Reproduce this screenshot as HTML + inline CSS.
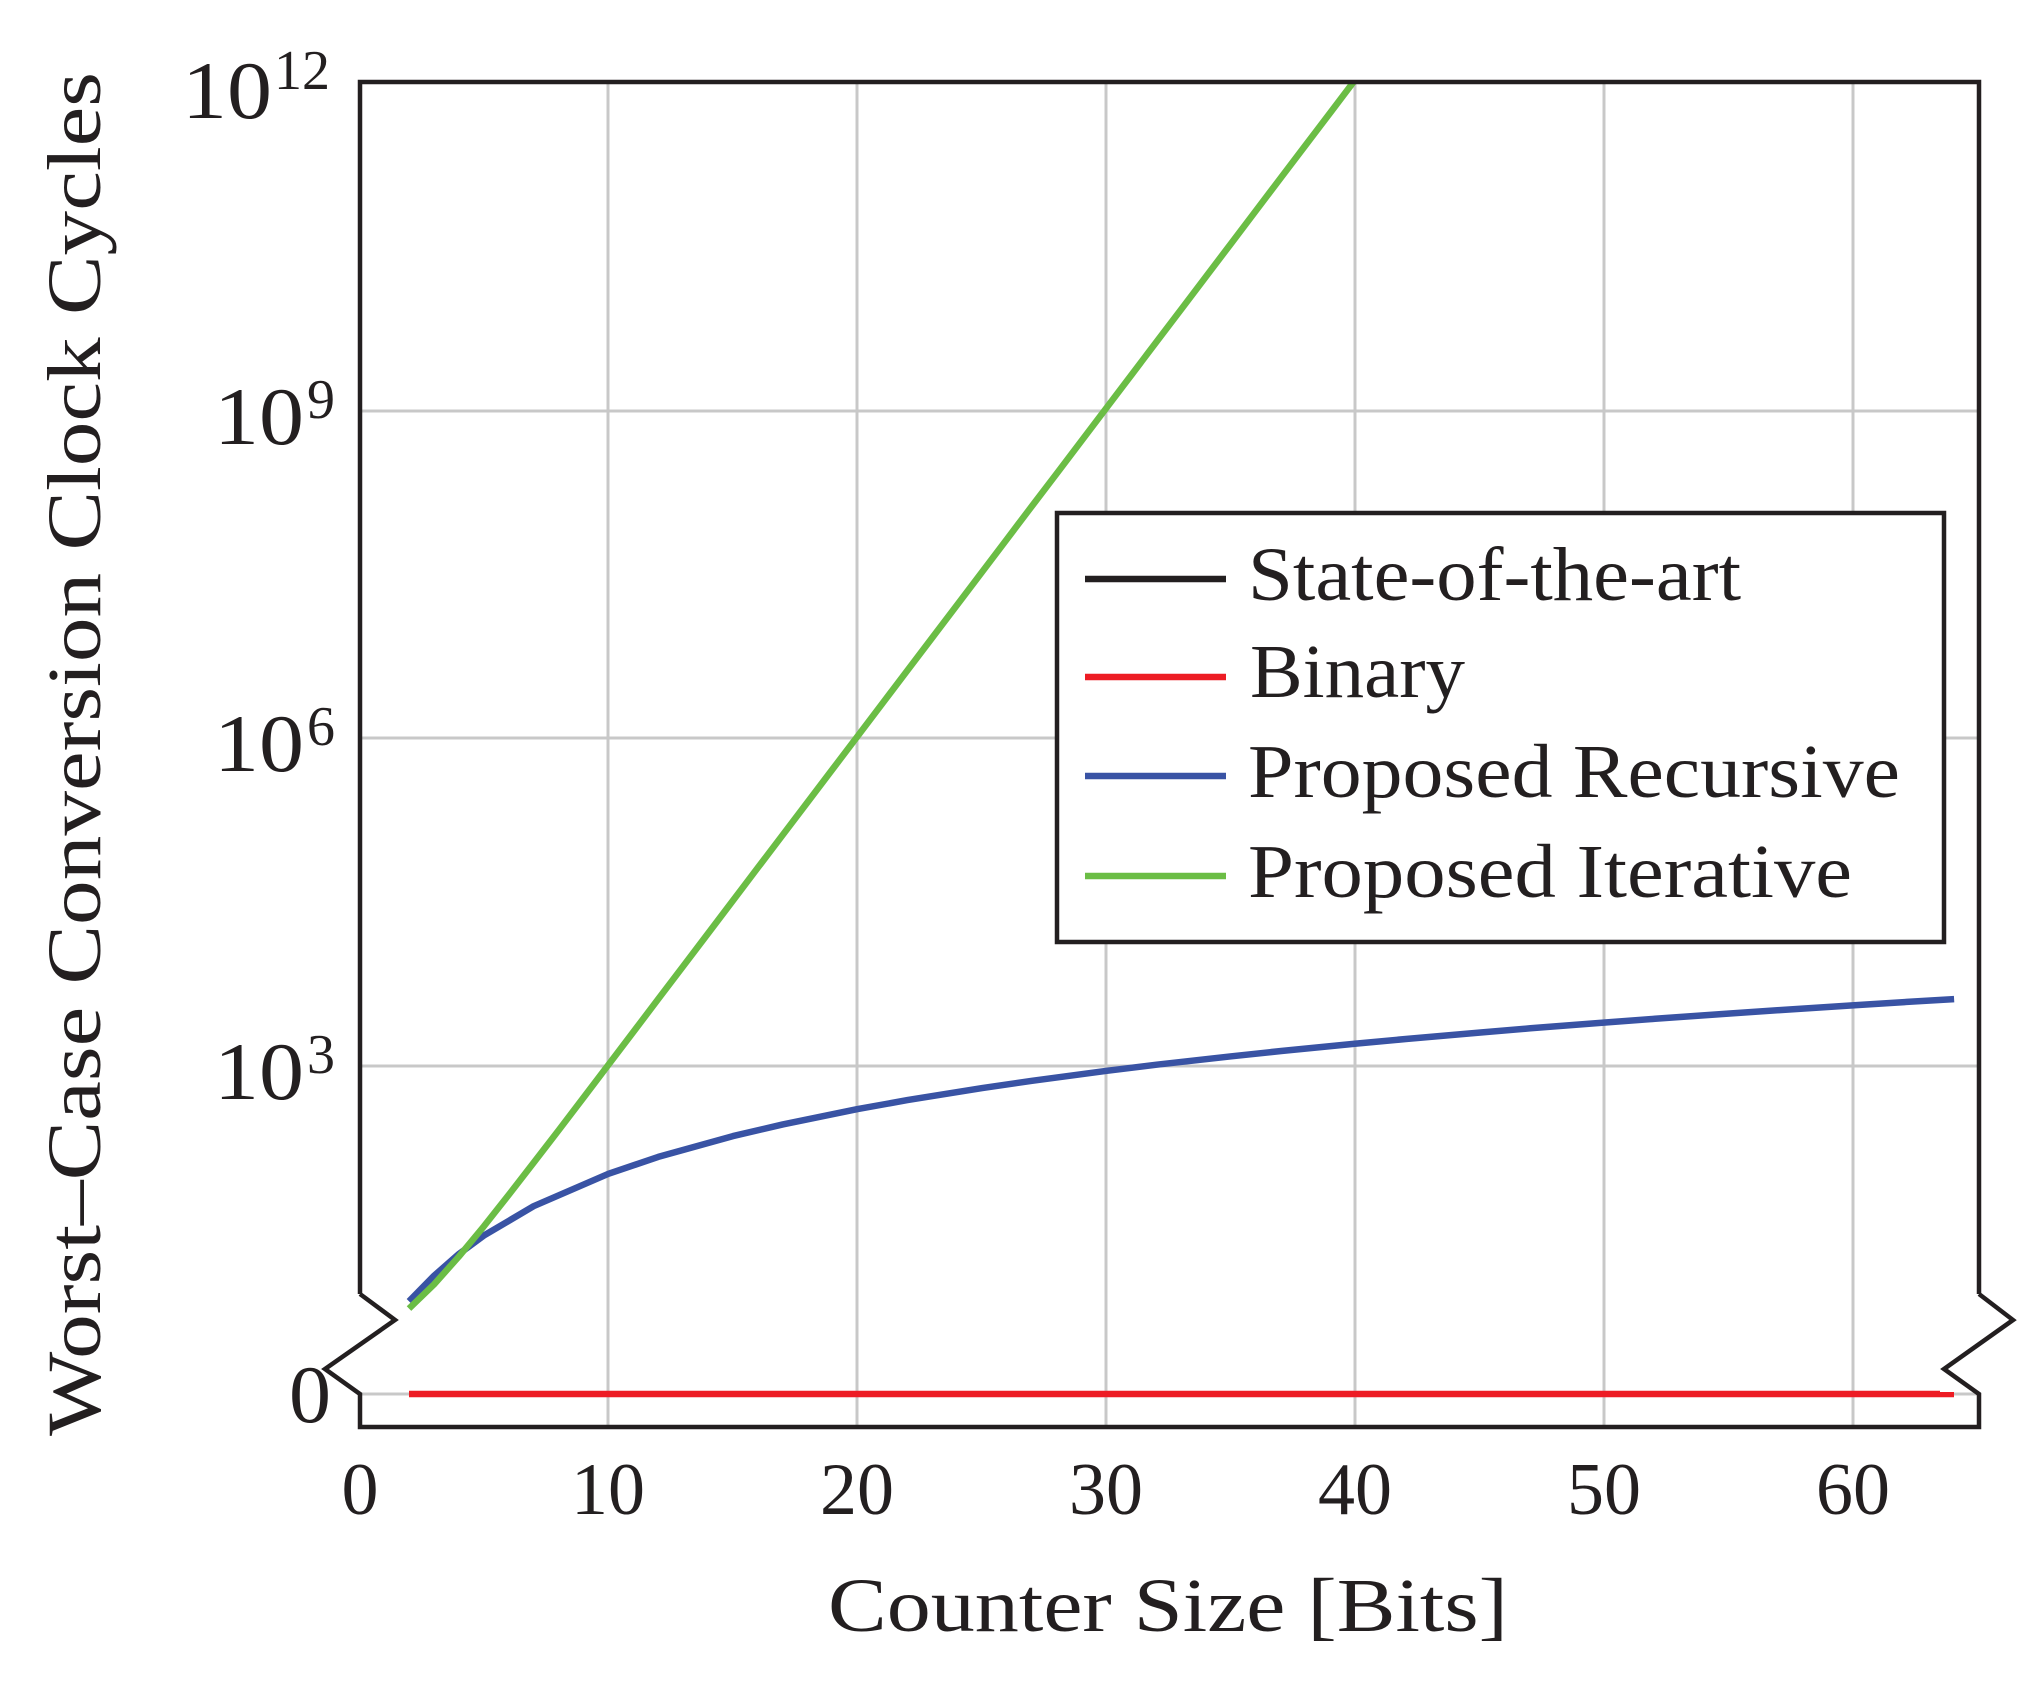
<!DOCTYPE html>
<html><head><meta charset="utf-8"><style>html,body{margin:0;padding:0;background:#fff}svg{display:block}</style></head>
<body>
<svg width="2038" height="1685" viewBox="0 0 2038 1685" xmlns="http://www.w3.org/2000/svg" font-family="Liberation Serif, serif" fill="#231f20">
<defs><clipPath id="c"><rect x="360" y="82" width="1619" height="1345"/></clipPath></defs>
<g stroke="#c8c8c8" stroke-width="3">
<line x1="608" y1="82" x2="608" y2="1427"/><line x1="857" y1="82" x2="857" y2="1427"/>
<line x1="1106" y1="82" x2="1106" y2="1427"/><line x1="1355" y1="82" x2="1355" y2="1427"/>
<line x1="1604" y1="82" x2="1604" y2="1427"/><line x1="1853" y1="82" x2="1853" y2="1427"/>
<line x1="360" y1="411" x2="1979" y2="411"/><line x1="360" y1="738" x2="1979" y2="738"/>
<line x1="360" y1="1066" x2="1979" y2="1066"/><line x1="360" y1="1394" x2="1979" y2="1394"/>
</g>
<g clip-path="url(#c)" fill="none" stroke-width="6.5" stroke-linejoin="round">
<line x1="409" y1="1394" x2="1954" y2="1394" stroke="#ed1c24"/>
<polyline id="b" stroke="#3953a4" points=""/>
<polyline id="g" stroke="#6bbd45" points=""/>
</g>
<g fill="#fff" stroke="none"><rect x="320" y="1298" width="80" height="94"/><rect x="1940" y="1298" width="80" height="94"/></g>
<g fill="none" stroke="#231f20" stroke-width="4.5" stroke-linejoin="miter">
<polyline points="360,1294 360,82 1979,82 1979,1294"/>
<polyline points="360,1294 395,1320 325,1369 360,1394 360,1427 1979,1427 1979,1394 1944,1369 2013,1320 1979,1294"/>
</g>
<g font-size="74" text-anchor="middle">
<text x="360" y="1514">0</text><text x="608" y="1514">10</text><text x="857" y="1514">20</text>
<text x="1106" y="1514">30</text><text x="1355" y="1514">40</text><text x="1604" y="1514">50</text><text x="1853" y="1514">60</text>
</g>
<g font-size="82">
<text x="289" y="1422" textLength="42" lengthAdjust="spacingAndGlyphs">0</text>
<text x="214" y="1099" textLength="90" lengthAdjust="spacingAndGlyphs">10</text><text x="307" y="1073" font-size="56">3</text>
<text x="214" y="771" textLength="90" lengthAdjust="spacingAndGlyphs">10</text><text x="307" y="745" font-size="56">6</text>
<text x="214" y="444" textLength="90" lengthAdjust="spacingAndGlyphs">10</text><text x="307" y="418" font-size="56">9</text>
<text x="182" y="118" textLength="90" lengthAdjust="spacingAndGlyphs">10</text><text x="274" y="89" font-size="56" textLength="56" lengthAdjust="spacingAndGlyphs">12</text>
</g>
<text x="1168" y="1631" font-size="76" text-anchor="middle" textLength="680" lengthAdjust="spacingAndGlyphs">Counter Size [Bits]</text>
<text transform="translate(100,754) rotate(-90)" font-size="76" text-anchor="middle" textLength="1364" lengthAdjust="spacingAndGlyphs">Worst–Case Conversion Clock Cycles</text>
<rect x="1057" y="513" width="887" height="429" fill="#fff" stroke="#231f20" stroke-width="4.5"/>
<g stroke-width="6.5">
<line x1="1085" y1="579" x2="1226" y2="579" stroke="#231f20"/>
<line x1="1085" y1="677" x2="1226" y2="677" stroke="#ed1c24"/>
<line x1="1085" y1="776" x2="1226" y2="776" stroke="#3953a4"/>
<line x1="1085" y1="876" x2="1226" y2="876" stroke="#6bbd45"/>
</g>
<g font-size="76">
<text x="1248" y="600" textLength="493" lengthAdjust="spacingAndGlyphs">State-of-the-art</text>
<text x="1250" y="697" textLength="215" lengthAdjust="spacingAndGlyphs">Binary</text>
<text x="1248" y="797" textLength="652" lengthAdjust="spacingAndGlyphs">Proposed Recursive</text>
<text x="1248" y="897" textLength="604" lengthAdjust="spacingAndGlyphs">Proposed Iterative</text>
</g>
<script>
function X(n){return 359.2+24.92*n}
function Y(v){return 1066-(Math.log10(v)-3)*109.2}
var b=[],g=[];
var bs=[2,3,4,5,7,10,12,15,17,20,22,25,27,30,32,35,37,40,42,45,47,50,52,55,57,60,62,64];
bs.forEach(function(n){b.push(X(n).toFixed(1)+","+Y(n*n+3).toFixed(1));});
for(var n=2;n<=41;n++){g.push(X(n).toFixed(1)+","+Y(Math.pow(2,n)+2).toFixed(1));}
document.getElementById("b").setAttribute("points",b.join(" "));
document.getElementById("g").setAttribute("points",g.join(" "));
</script>
</svg>
</body></html>
